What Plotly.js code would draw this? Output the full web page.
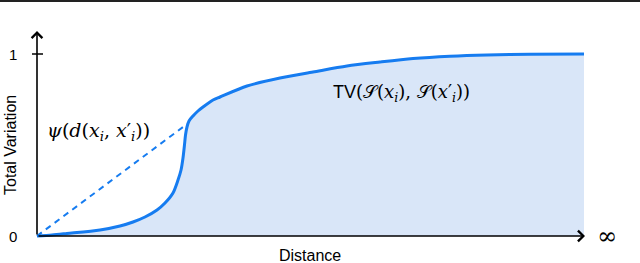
<!DOCTYPE html>
<html><head><meta charset="utf-8">
<script src="https://cdn.plot.ly/plotly-3.0.1.min.js"></script>
<style>html,body{margin:0;padding:0;background:#fff;}#c{width:640px;height:263px;}</style>
</head><body><div id="c"></div>
<script>
// Data (distance in arbitrary units 0..100, total variation 0..1)
const distance = [0, 2.74, 5.48, 11.52, 15.17, 17.55, 19.74, 21.94, 23.40, 24.86, 25.78, 26.33, 26.69, 26.96, 27.15, 27.42, 27.79, 28.52, 29.43, 30.35, 32.18, 33.46, 38.39, 44.42, 50.46, 56.67, 62.71, 68.74, 75.50, 82.27, 90.13, 100];
const tv       = [0, 0.0055, 0.0137, 0.0330, 0.0549, 0.0769, 0.1044, 0.1429, 0.1813, 0.2363, 0.3077, 0.3626, 0.4286, 0.5, 0.5549, 0.5989, 0.6319, 0.6593, 0.6868, 0.7088, 0.7473, 0.7637, 0.8242, 0.8681, 0.9011, 0.9341, 0.9560, 0.9753, 0.9880, 0.9950, 0.9985, 1.0];
const psiX = [0, 27.42];
const psiY = [0, 0.615];
const yTickVals = [0, 1];
const yTickText = ['0', '1'];

// pixel layout helpers
const W = 640, H = 263;
const x0px = 37, sx = 5.47, y0px = 236, sy = 182;
const xr = [-x0px / sx, (W - x0px) / sx];
const yr = [(y0px - H) / sy, y0px / sy];
const px2x = p => (p - x0px) / sx;
const py2y = p => (y0px - p) / sy;

const lineCol = 'rgb(22,124,240)';
const traces = [
  {x: distance, y: tv, type: 'scatter', mode: 'lines', line: {color: lineCol, width: 3, shape: 'spline', smoothing: 0.8},
   fill: 'tozeroy', fillcolor: 'rgb(217,230,248)', hoverinfo: 'skip'},
  {x: psiX, y: psiY, type: 'scatter', mode: 'lines', line: {color: lineCol, width: 2, dash: '6px,5px'}, hoverinfo: 'skip'}
];

const sans = 'Liberation Sans, Arial, sans-serif';
const serif = 'DejaVu Serif, Liberation Serif, serif';
const annotations = [
  // axes arrows
  {x: 0, y: py2y(31), ax: 0, ay: 205, xref: 'x', yref: 'y', showarrow: true, arrowhead: 4, arrowsize: 1.3, arrowwidth: 1.6, arrowcolor: '#000', text: ''},
  {x: px2x(585), y: 0, ax: -548, ay: 0, xref: 'x', yref: 'y', showarrow: true, arrowhead: 4, arrowsize: 1.3, arrowwidth: 1.6, arrowcolor: '#000', text: ''},
  // tick labels
  {x: px2x(13), y: yTickVals[0], text: yTickText[0], showarrow: false, font: {family: sans, size: 15, color: '#000'}},
  {x: px2x(13), y: yTickVals[1], text: yTickText[1], showarrow: false, font: {family: sans, size: 15, color: '#000'}},
  {x: px2x(607), y: py2y(236), text: '∞', showarrow: false, font: {family: serif, size: 24, color: '#000'}},
  // axis titles
  {x: px2x(10), y: py2y(145), text: 'Total Variation', textangle: -90, showarrow: false, font: {family: sans, size: 16, color: '#000'}},
  {x: px2x(310), y: py2y(255), text: 'Distance', showarrow: false, font: {family: sans, size: 16, color: '#000'}},
  // curve labels
  {x: px2x(98), y: py2y(131), text: '<i>ψ</i>(<i>d</i>(<i>x</i><sub><i>i</i></sub>, <i>x</i>′<sub><i>i</i></sub>))', showarrow: false, font: {family: serif, size: 19, color: '#000'}},
  {x: px2x(401), y: py2y(93), text: '<span style="font-family:Liberation Sans">TV</span>(𝒮(<i>x</i><sub><i>i</i></sub>), 𝒮(<i>x</i>′<sub><i>i</i></sub>))', showarrow: false, font: {family: serif, size: 18, color: '#000'}}
];

const shapes = [
  {type: 'line', xref: 'paper', yref: 'paper', x0: 0, x1: 1, y0: 1 - 1 / H, y1: 1 - 1 / H, line: {color: '#222', width: 2}},
  {type: 'line', xref: 'x', yref: 'y', x0: px2x(32), x1: px2x(43), y0: 1, y1: 1, line: {color: '#000', width: 1.5}}
];

const layout = {
  width: W, height: H, margin: {l: 0, r: 0, t: 0, b: 0, pad: 0},
  paper_bgcolor: '#fff', plot_bgcolor: '#fff', showlegend: false,
  xaxis: {range: xr, visible: false, fixedrange: true},
  yaxis: {range: yr, visible: false, fixedrange: true},
  annotations, shapes
};
Plotly.newPlot('c', traces, layout, {displayModeBar: false, staticPlot: true});
</script></body></html>
